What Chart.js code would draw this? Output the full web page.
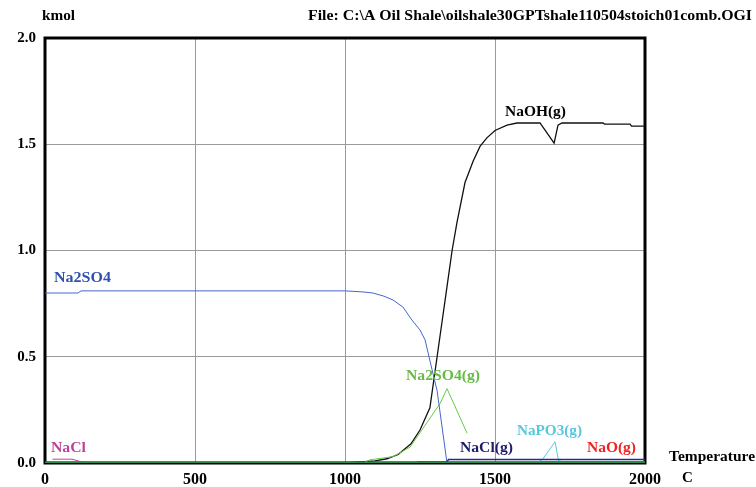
<!DOCTYPE html>
<html>
<head>
<meta charset="utf-8">
<script src="https://cdn.jsdelivr.net/npm/chart.js@4.4.1/dist/chart.umd.min.js"></script>
<style>
  html, body { margin: 0; padding: 0; background: #fff; }
  #wrap { width: 756px; height: 487px; position: relative; }
</style>
</head>
<body>
<div id="wrap"><canvas id="chart"></canvas></div>
<script>
// axis ticks
const xTicks = [0, 500, 1000, 1500, 2000];
const yTicks = [0.0, 0.5, 1.0, 1.5, 2.0];

// NaOH(g)
const naohT = [0, 1000, 1100, 1140, 1177, 1220, 1250, 1283, 1293, 1307, 1325, 1340, 1357, 1373, 1400, 1427, 1450, 1473, 1500, 1540, 1573, 1650, 1697, 1710, 1723, 1860, 1865, 1950, 1955, 2000];
const naohV = [0, 0, 0.01, 0.02, 0.04, 0.09, 0.155, 0.26, 0.36, 0.5, 0.68, 0.83, 1.0, 1.13, 1.32, 1.42, 1.49, 1.53, 1.565, 1.59, 1.6, 1.6, 1.505, 1.59, 1.6, 1.6, 1.595, 1.595, 1.585, 1.585];

// Na2SO4
const na2so4T = [0, 110, 120, 1000, 1060, 1093, 1130, 1160, 1193, 1223, 1250, 1267, 1277, 1290, 1307, 1340, 2000];
const na2so4V = [0.80, 0.80, 0.81, 0.81, 0.805, 0.80, 0.785, 0.767, 0.734, 0.673, 0.626, 0.579, 0.518, 0.44, 0.34, 0.0, 0.0];

// Na2SO4(g)
const na2so4gT = [1060, 1083, 1160, 1217, 1273, 1317, 1340, 1407];
const na2so4gV = [0, 0.015, 0.03, 0.075, 0.19, 0.28, 0.35, 0.14];

// NaCl(g)
const naclgT = [1240, 1340, 1345, 2000];
const naclgV = [0.005, 0.005, 0.017, 0.017];

// NaPO3(g)
const napo3gT = [1640, 1660, 1700, 1712, 1730];
const napo3gV = [0, 0.02, 0.1, 0.01, 0.005];

// NaO(g)
const naogT = [1650, 1820, 1950, 2000];
const naogV = [0.004, 0.004, 0.004, 0.004];

// NaCl
const naclT = [25, 90, 115, 130];
const naclV = [0.018, 0.018, 0.008, 0.003];

// other species along the bottom
const baseT = [0, 2000];
const baseV = [0.002, 0.002];

function pts(t, v) {
    return t.map((x, i) => ({ x: x, y: v[i] }));
}

const serif = '"Liberation Serif", "DejaVu Serif", serif';

// text stretched horizontally to the width it has in the original
function fitText(ctx, text, x, y, width) {
    const w = ctx.measureText(text).width;
    ctx.save();
    ctx.translate(x, y);
    ctx.scale(width / w, 1);
    ctx.fillText(text, 0, 0);
    ctx.restore();
}

// Series labels and page texts
const labelsPlugin = {
    id: 'labels',
    beforeDatasetsDraw(chart) {
        const { ctx, chartArea: a } = chart;
        ctx.save();
        ctx.strokeStyle = '#000';
        ctx.lineWidth = 3;
        ctx.strokeRect(a.left, a.top, a.right - a.left, a.bottom - a.top);
        ctx.restore();
    },
    afterDraw(chart) {
        const { ctx } = chart;
        ctx.save();
        ctx.textBaseline = 'middle';
        ctx.textAlign = 'left';
        ctx.font = 'bold 15px ' + serif;
        ctx.fillStyle = '#000';
        fitText(ctx, 'kmol', 42, 16, 33);
        fitText(ctx, 'File: C:\\A Oil Shale\\oilshale30GPTshale110504stoich01comb.OGI', 308, 16, 444);
        fitText(ctx, 'Temperature', 669, 457, 86);
        ctx.fillText('C', 682, 478);

        const items = [
            ['NaOH(g)', 505, 112, 61, '#000000'],
            ['Na2SO4', 54, 278, 57, '#3050b0'],
            ['Na2SO4(g)', 406, 376, 74, '#66bb44'],
            ['NaCl(g)', 460, 448, 53, '#1c1c6c'],
            ['NaPO3(g)', 517, 431, 65, '#55c8dd'],
            ['NaO(g)', 587, 448, 49, '#ee2222'],
            ['NaCl', 51, 448, 35, '#bb4499']
        ];
        items.forEach(([t, x, y, w, c]) => {
            ctx.fillStyle = c;
            fitText(ctx, t, x, y, w);
        });
        ctx.restore();
    }
};

function ds(label, t, v, color, width) {
    return {
        label: label,
        data: pts(t, v),
        borderColor: color,
        borderWidth: width || 1,
        pointRadius: 0,
        tension: 0,
        fill: false
    };
}

new Chart(document.getElementById('chart'), {
    type: 'line',
    data: {
        datasets: [
            ds('base', baseT, baseV, '#2a8a4a', 2),
            ds('NaCl', naclT, naclV, '#bb4499', 1),
            ds('NaO(g)', naogT, naogV, '#ee2222', 2),
            ds('NaCl(g)', naclgT, naclgV, '#2a2a8a', 1.5),
            ds('NaPO3(g)', napo3gT, napo3gV, '#55c8dd', 1),
            ds('Na2SO4', na2so4T, na2so4V, '#4466cc', 1),
            ds('Na2SO4(g)', na2so4gT, na2so4gV, '#66cc44', 1),
            ds('NaOH(g)', naohT, naohV, '#111111', 1.3)
        ]
    },
    options: {
        responsive: true,
        maintainAspectRatio: false,
        animation: false,
        layout: { padding: { top: 38, right: 111, left: 0, bottom: 0 } },
        plugins: {
            legend: { display: false },
            tooltip: { enabled: false }
        },
        scales: {
            x: {
                type: 'linear',
                min: 0,
                max: 2000,
                afterBuildTicks: s => { s.ticks = xTicks.map(v => ({ value: v })); },
                afterFit: s => { s.height = 24; },
                ticks: {
                    color: '#000',
                    font: { family: serif, size: 16, weight: 'bold' },
                    padding: 7,
                    maxRotation: 0,
                    callback: v => String(v)
                },
                grid: {
                    color: c => (c.tick && (c.tick.value === 0 || c.tick.value === 2000)) ? 'rgba(0,0,0,0)' : '#9a9a9a',
                    drawTicks: false
                },
                border: { display: false }
            },
            y: {
                min: 0,
                max: 2,
                afterBuildTicks: s => { s.ticks = yTicks.map(v => ({ value: v })); },
                afterFit: s => { s.width = 45; },
                ticks: {
                    color: '#000',
                    font: { family: serif, size: 15, weight: 'bold' },
                    padding: 9,
                    callback: v => v.toFixed(1)
                },
                grid: {
                    color: c => (c.tick && (c.tick.value === 0 || c.tick.value === 2)) ? 'rgba(0,0,0,0)' : '#9a9a9a',
                    drawTicks: false
                },
                border: { display: false }
            }
        }
    },
    plugins: [labelsPlugin]
});
</script>
</body>
</html>
